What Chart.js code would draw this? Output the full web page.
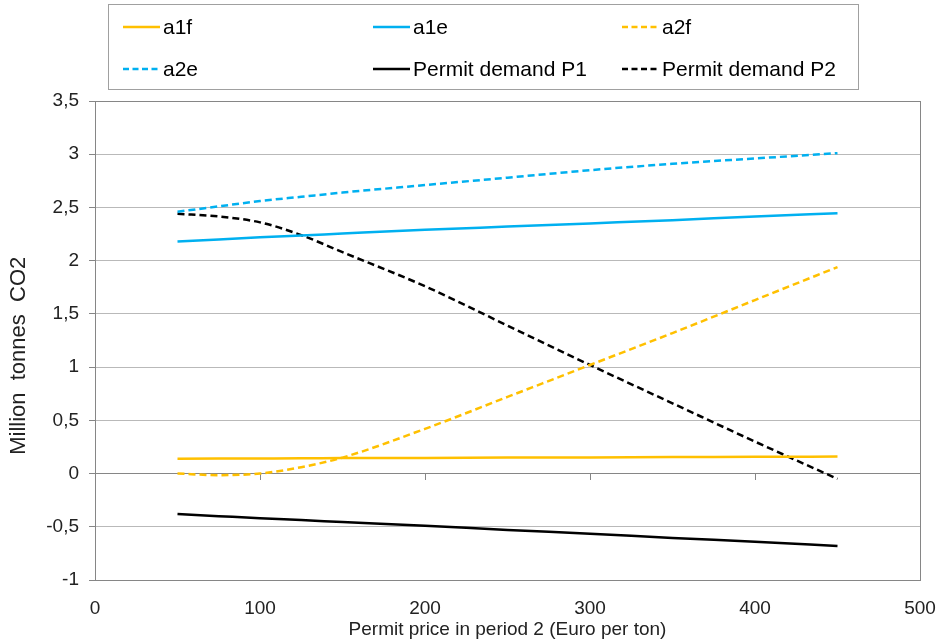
<!DOCTYPE html>
<html>
<head>
<meta charset="utf-8">
<script src="https://cdn.jsdelivr.net/npm/chart.js@4"></script>
<style>
  html, body { margin: 0; padding: 0; background: #fff; }
  #wrap { width: 941px; height: 644px; }
</style>
</head>
<body>
<div id="wrap"><canvas id="myChart"></canvas></div>
<script>
const prices = [50, 75, 100, 125, 150, 200, 250, 300, 350, 400, 450];
const a1f = [0.14, 0.141, 0.142, 0.143, 0.145, 0.147, 0.15, 0.152, 0.155, 0.157, 0.16];
const a1e = [2.18, 2.20, 2.22, 2.237, 2.255, 2.29, 2.32, 2.35, 2.38, 2.415, 2.445];
const a2f = [0.0, -0.015, 0.0, 0.06, 0.15, 0.42, 0.72, 1.02, 1.32, 1.63, 1.94];
const a2e = [2.46, 2.51, 2.56, 2.60, 2.64, 2.71, 2.78, 2.85, 2.91, 2.96, 3.01];
const p1 = [-0.38, -0.40, -0.42, -0.437, -0.455, -0.49, -0.53, -0.565, -0.605, -0.64, -0.68];
const p2 = [2.44, 2.415, 2.36, 2.24, 2.08, 1.76, 1.39, 1.02, 0.66, 0.30, -0.05];

const xTicks = [0, 100, 200, 300, 400, 500];
const yTicks = [-1, -0.5, 0, 0.5, 1, 1.5, 2, 2.5, 3, 3.5];

const yellow = '#FFC000';
const blue = '#00B0F0';
const black = '#000000';

function pts(ys) {
  return prices.map((x, i) => ({ x: x, y: ys[i] }));
}

function series(label, ys, color, dashed) {
  return {
    label: label,
    data: pts(ys),
    borderColor: color,
    backgroundColor: color,
    borderWidth: 2.5,
    borderDash: dashed ? [7, 4] : [],
    pointRadius: 0,
    fill: false,
    cubicInterpolationMode: 'monotone'
  };
}

const data = {
  datasets: [
    series('a1f', a1f, yellow, false),
    series('a1e', a1e, blue, false),
    series('a2f', a2f, yellow, true),
    series('a2e', a2e, blue, true),
    series('Permit demand P1', p1, black, false),
    series('Permit demand P2', p2, black, true)
  ]
};

const axisGrey = '#868686';
const gridGrey = '#b9b9b9';
const fontFamily = '"Liberation Sans", Arial, sans-serif';
const font = { family: fontFamily, size: 19 };

// grey frame round the plot area
const plotFrame = {
  id: 'plotFrame',
  beforeDatasetsDraw(chart) {
    const a = chart.chartArea;
    const c = chart.ctx;
    c.save();
    c.strokeStyle = axisGrey;
    c.lineWidth = 1;
    c.strokeRect(a.left + 0.5, a.top + 0.5, a.right - a.left, a.bottom - a.top);
    c.restore();
  }
};

// Excel-style boxed legend, 3 columns x 2 rows
const boxLegend = {
  id: 'boxLegend',
  afterDraw(chart) {
    const c = chart.ctx;
    const cols = [123, 373, 622];
    const rows = [27, 69];
    c.save();
    c.strokeStyle = '#a0a0a0';
    c.lineWidth = 1;
    c.strokeRect(108.5, 4.5, 750, 85);
    c.font = '21px ' + fontFamily;
    c.textBaseline = 'middle';
    c.fillStyle = '#000';
    chart.data.datasets.forEach((ds, i) => {
      const x = cols[i % 3];
      const y = rows[Math.floor(i / 3)];
      c.strokeStyle = ds.borderColor;
      c.lineWidth = 2.5;
      c.setLineDash(ds.borderDash.length ? [6, 3.5] : []);
      c.beginPath();
      c.moveTo(x, y);
      c.lineTo(x + 37, y);
      c.stroke();
      c.setLineDash([]);
      c.fillText(ds.label, x + 40, y + 1);
    });
    c.restore();
  }
};

new Chart(document.getElementById('myChart'), {
  type: 'line',
  data: data,
  plugins: [plotFrame, boxLegend],
  options: {
    responsive: true,
    maintainAspectRatio: false,
    animation: false,
    layout: { padding: { top: 101, right: 21, left: 0, bottom: 0 } },
    scales: {
      x: {
        type: 'linear',
        min: 0,
        max: 500,
        afterBuildTicks: (s) => { s.ticks = xTicks.map(v => ({ value: v })); },
        afterFit: (s) => {
          s.height = 64;
          s.paddingLeft = 0;
          s.paddingRight = 0;
        },
        grid: { display: false, drawTicks: false },
        border: { display: true, color: axisGrey },
        ticks: { font: font, color: '#222', padding: 17, maxRotation: 0 },
        title: {
          display: true,
          text: 'Permit price in period 2 (Euro per ton)',
          font: font,
          color: '#222',
          padding: { top: 0, bottom: 3 }
        }
      },
      xZero: {
        type: 'linear',
        min: 0,
        max: 500,
        position: { y: 0 },
        afterBuildTicks: (s) => { s.ticks = xTicks.map(v => ({ value: v })); },
        afterFit: (s) => {
          s.paddingLeft = 0;
          s.paddingRight = 0;
        },
        grid: { drawOnChartArea: false, drawTicks: true, tickLength: 6, color: axisGrey },
        border: { display: true, color: axisGrey },
        ticks: { display: false }
      },
      y: {
        min: -1,
        max: 3.5,
        afterBuildTicks: (s) => { s.ticks = yTicks.map(v => ({ value: v })); },
        afterFit: (s) => { s.width = 95; },
        grid: {
          color: (ctx) => (ctx.tick && ctx.tick.value === 0 ? axisGrey : gridGrey),
          tickColor: axisGrey,
          tickLength: 6
        },
        border: { display: true, color: axisGrey },
        ticks: {
          font: font,
          color: '#222',
          padding: 10,
          callback: (v) => String(Number(v.toFixed(1))).replace('.', ',')
        },
        title: {
          display: true,
          // trailing spaces push the label a little below the axis centre, as in the original
          text: 'Million  tonnes  CO2     ',
          font: { family: fontFamily, size: 22 },
          color: '#222',
          padding: { top: 6, bottom: 0 }
        }
      }
    },
    plugins: {
      legend: { display: false },
      tooltip: { enabled: false }
    }
  }
});
</script>
</body>
</html>
